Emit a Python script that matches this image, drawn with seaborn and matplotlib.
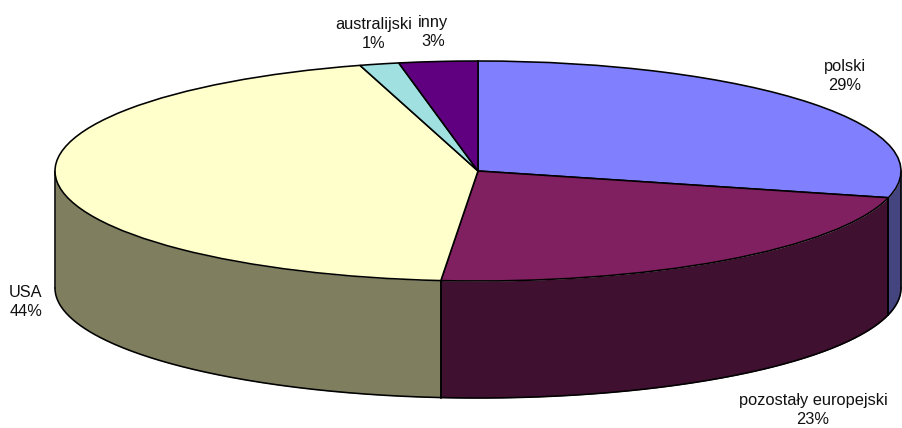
import numpy as np
import matplotlib
matplotlib.use("Agg")
import matplotlib.pyplot as plt
import seaborn as sns

labels = ["polski", "pozostały europejski", "USA", "australijski", "inny"]
percent_labels = ["29%", "23%", "44%", "1%", "3%"]
values = [28.9, 22.5, 44.1, 1.5, 3.0]
top_colors = ["#8080FF", "#802060", "#FFFFCC", "#A0E0E0", "#600080"]
side_colors = ["#44447F", "#401030", "#7F7F60", "#507070", "#300040"]
label_px = [(845, 76), (813, 410), (26, 302), (374, 34), (433, 32)]

W, H = 902, 428
CX, CY, RX, RY, DEPTH = 478, 171, 423, 110, 117
LW = 1.15

sns.set_theme(style="white")
plt.rcParams["font.family"] = ["Liberation Sans", "DejaVu Sans"]

fig = plt.figure(figsize=(W / 100, H / 100), dpi=100)
ax = fig.add_axes([0, 0, 1, 1])
d = DEPTH / RY

# side wall, front half of the rim only
edges = np.concatenate([[0], np.cumsum(values)]) / sum(values) * 360
for a, b, c in zip(edges[:-1], edges[1:], side_colors):
    lo, hi = max(a, 90), min(b, 270)
    if hi <= lo:
        continue
    t = np.radians(np.linspace(lo, hi, 200))
    x, y = np.sin(t), np.cos(t)
    ax.fill_between(x, y, y - d, color=c, lw=0, zorder=1)
    ax.plot(x, y - d, color="black", lw=LW, zorder=2)
    for s in (lo, hi):
        r = np.radians(s)
        ax.plot([np.sin(r)] * 2, [np.cos(r), np.cos(r) - d], color="black", lw=LW, zorder=2)

wedges, _ = ax.pie(values, colors=top_colors, startangle=90, counterclock=False,
                   radius=1, center=(0, 0), frame=True,
                   wedgeprops=dict(edgecolor="black", linewidth=LW, zorder=3))

ax.set_aspect("auto")
ax.set_xlim(-CX / RX, (W - CX) / RX)
ax.set_ylim((CY - H) / RY, CY / RY)
ax.axis("off")

for name, pct, (px, py) in zip(labels, percent_labels, label_px):
    ax.text((px - CX) / RX, (CY - py) / RY, f"{name}\n{pct}", ha="center", va="center",
            fontsize=11.8, color="#111111", linespacing=1.33, zorder=5)

fig.savefig("out.png", dpi=100, facecolor="white")
